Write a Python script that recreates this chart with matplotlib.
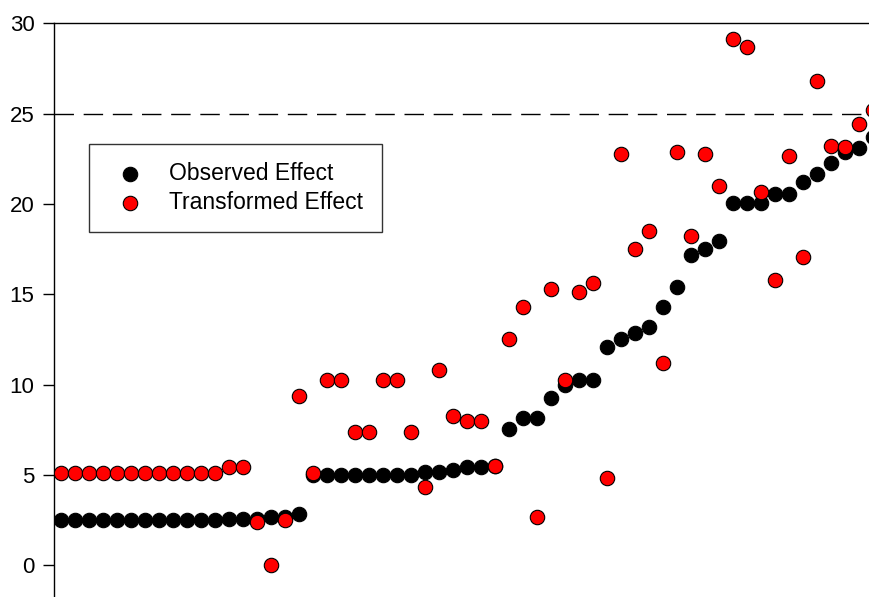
import matplotlib.pyplot as plt

plt.rcParams['font.family'] = ['Liberation Sans', 'DejaVu Sans']

observed = [
	2.5, 2.5, 2.5, 2.5, 2.5, 2.5, 2.5, 2.5, 2.5, 2.5, 2.5, 2.5,
	2.55, 2.55, 2.57, 2.66, 2.7, 2.83,
	5.0, 5.0, 5.0, 5.0, 5.0, 5.0, 5.0, 5.0,
	5.15, 5.15, 5.28, 5.43, 5.43, 5.52,
	7.53, 8.14, 8.14, 9.28, 9.98, 10.26, 10.26,
	12.1, 12.51, 12.84, 13.18, 14.32, 15.42, 17.15, 17.49, 17.97,
	20.04, 20.04, 20.04, 20.53, 20.53, 21.24, 21.64, 22.25, 22.9, 23.12, 23.73
]

transformed = [
	5.1, 5.1, 5.1, 5.1, 5.1, 5.1, 5.1, 5.1, 5.1, 5.1, 5.1, 5.1,
	5.43, 5.45, 2.42, 0.0, 2.51, 9.39,
	5.12, 10.26, 10.26, 7.4, 7.4, 10.26, 10.26, 7.4,
	4.34, 10.81, 8.25, 7.97, 7.97, 5.52,
	12.51, 14.32, 2.7, 15.28, 10.26, 15.15, 15.6,
	4.86, 22.77, 17.51, 18.52, 11.22, 22.9, 18.23, 22.77, 21.0,
	29.11, 28.7, 20.65, 15.79, 22.67, 17.08, 26.8, 23.21, 23.14, 24.41, 25.2
]

x = list(range(1, len(observed) + 1))
threshold = 25

fig = plt.figure(figsize=(8.69, 5.97), dpi=100)
# axes run past the right and bottom edges of the picture, as in the original
ax = fig.add_axes([0.0621, -0.0075, 0.9666, 0.9685])

ax.axhline(threshold, color='black', linewidth=1, linestyle=(0, (14, 7)), zorder=1)

ax.scatter(x, observed, s=108, color='black', edgecolors='black', linewidths=0.8,
	label='Observed Effect', zorder=2)
ax.scatter(x, transformed, s=108, color='red', edgecolors='black', linewidths=0.8,
	label='Transformed Effect', zorder=3)

ax.set_xlim(0.5, 60.5)
ax.set_ylim(-2, 30)
ax.set_yticks([0, 5, 10, 15, 20, 25, 30])
ax.set_xticks([])
ax.tick_params(axis='y', direction='out', length=8, width=1, pad=6, labelsize=16)

for side in ['left', 'top']:
	ax.spines[side].set_linewidth(1)
ax.spines['right'].set_visible(False)
ax.spines['bottom'].set_visible(False)

leg = ax.legend(loc='upper left', bbox_to_anchor=(0.0417, 0.7913), borderaxespad=0,
	fontsize=16.5, frameon=True, fancybox=False, edgecolor='black',
	borderpad=0.8, labelspacing=0.25, handletextpad=0.7, handlelength=2.0)
leg.get_frame().set_linewidth(1)

plt.savefig('out.png', dpi=100)
